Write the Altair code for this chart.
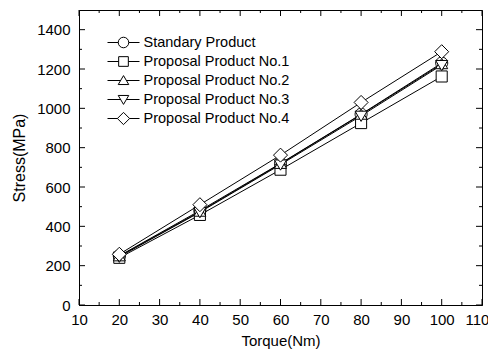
import altair as alt
import pandas as pd

torque = [20, 40, 60, 80, 100]
series_names = ["Standary Product", "Proposal Product No.1", "Proposal Product No.2",
                "Proposal Product No.3", "Proposal Product No.4"]
standard = [250, 480, 720, 970, 1230]
no1 = [240, 458, 688, 925, 1162]
no2 = [248, 475, 718, 968, 1225]
no3 = [245, 472, 714, 962, 1220]
no4 = [258, 510, 762, 1030, 1288]

x_major = [10, 20, 30, 40, 50, 60, 70, 80, 90, 100, 110]
x_minor = [15, 25, 35, 45, 55, 65, 75, 85, 95, 105]
y_major = [0, 200, 400, 600, 800, 1000, 1200, 1400]
y_minor = [100, 300, 500, 700, 900, 1100, 1300]

rows = []
for name, vals in zip(series_names, [standard, no1, no2, no3, no4]):
    for t, v in zip(torque, vals):
        rows.append({"torque": t, "stress": v, "series": name})
df = pd.DataFrame(rows)
leg_df = pd.DataFrame({"series": series_names})

W, H = 403, 295
FONT = "Liberation Sans"

point_paths = [
    "M-0.86,0A0.86,0.86,0,1,0,0.86,0A0.86,0.86,0,1,0,-0.86,0Z",
    "M-0.79,-0.79H0.79V0.79H-0.79Z",
    "M0,-0.8L0.86,0.66H-0.86Z",
    "M0,0.8L0.86,-0.66H-0.86Z",
    "M-1,0L0,-1L1,0L0,1Z",
]

xs = alt.Scale(domain=[10, 110], nice=False, zero=False)
ys = alt.Scale(domain=[0, 1500], nice=False, zero=False)

x_axis = alt.Axis(values=x_major, title="Torque(Nm)", format="d", tickSize=0,
                  labelPadding=7, titlePadding=6, grid=False, orient="bottom",
                  labelOverlap=False, labelFlush=False,
                  labelOffset={"condition": {"test": "datum.value === 110", "value": -5},
                               "value": 0},
                  labelFontSize=15, titleFontSize=15, labelFont=FONT, titleFont=FONT,
                  labelColor="black", titleColor="black", titleFontWeight="normal",
                  domainColor="black")
y_axis = alt.Axis(values=y_major, title="Stress(MPa)", format="d", tickSize=0,
                  labelPadding=9, titlePadding=9, grid=False, orient="left",
                  labelOverlap=False, labelFlush=False,
                  labelFontSize=15, titleFontSize=16, labelFont=FONT, titleFont=FONT,
                  labelColor="black", titleColor="black", titleFontWeight="normal",
                  domainColor="black")

base = alt.Chart(df)

lines = base.mark_line(color="black", strokeWidth=1).encode(
    x=alt.X("torque:Q", scale=xs, axis=x_axis),
    y=alt.Y("stress:Q", scale=ys, axis=y_axis),
    detail="series:N",
)

shape_scale = alt.Scale(domain=series_names, range=point_paths)

points = base.mark_point(filled=True, fill="white", stroke="black", strokeWidth=1,
                         opacity=1, size=196).encode(
    x=alt.X("torque:Q", scale=xs, axis=None),
    y=alt.Y("stress:Q", scale=ys, axis=None),
    shape=alt.Shape("series:N", scale=shape_scale, legend=None),
)

# legend (drawn as marks, rows placed by a point scale)
leg_y = alt.Y("series:N", scale=alt.Scale(type="point", domain=series_names,
                                          range=[32.5, 108.5], padding=0), axis=None)
leg_line = alt.Chart(leg_df).mark_rule(color="black", strokeWidth=1).encode(
    x=alt.value(28.5), x2=alt.value(60.5), y=leg_y)
leg_sym = alt.Chart(leg_df).mark_point(filled=True, fill="white", stroke="black",
                                       strokeWidth=1, opacity=1, size=150).encode(
    x=alt.value(44.5), y=leg_y,
    shape=alt.Shape("series:N", scale=shape_scale, legend=None))
leg_text = alt.Chart(leg_df).mark_text(align="left", baseline="middle", font=FONT,
                                       fontSize=14.5, color="black").encode(
    x=alt.value(64.5), y=leg_y, text="series:N")


def tick_layer(vals, orient, length):
    d = pd.DataFrame({"v": vals})
    c = alt.Chart(d).mark_rule(color="black", strokeWidth=1)
    if orient == "bottom":
        return c.encode(x=alt.X("v:Q", scale=xs, axis=None), y=alt.value(H), y2=alt.value(H - length))
    if orient == "top":
        return c.encode(x=alt.X("v:Q", scale=xs, axis=None), y=alt.value(0), y2=alt.value(length))
    if orient == "left":
        return c.encode(y=alt.Y("v:Q", scale=ys, axis=None), x=alt.value(0), x2=alt.value(length))
    return c.encode(y=alt.Y("v:Q", scale=ys, axis=None), x=alt.value(W), x2=alt.value(W - length))


ticks = []
for o in ["bottom", "top"]:
    ticks.append(tick_layer(x_major, o, 6))
    ticks.append(tick_layer(x_minor, o, 3))
for o in ["left", "right"]:
    ticks.append(tick_layer(y_major, o, 6))
    ticks.append(tick_layer(y_minor, o, 3))

chart = alt.layer(lines, *ticks, points, leg_line, leg_sym, leg_text).resolve_scale(
    x="independent", y="independent"
).properties(
    width=W, height=H,
    autosize=alt.AutoSizeParams(type="none"),
    padding={"left": 71, "top": 2, "right": 6, "bottom": 45},
).configure(background="white").configure_view(stroke="black", strokeWidth=1).configure_axis(
    labelFont=FONT, titleFont=FONT, labelFontSize=15,
    titleFontWeight="normal", labelColor="black", titleColor="black"
)

chart.save("out.html", embed_options={"renderer": "svg", "actions": False})
